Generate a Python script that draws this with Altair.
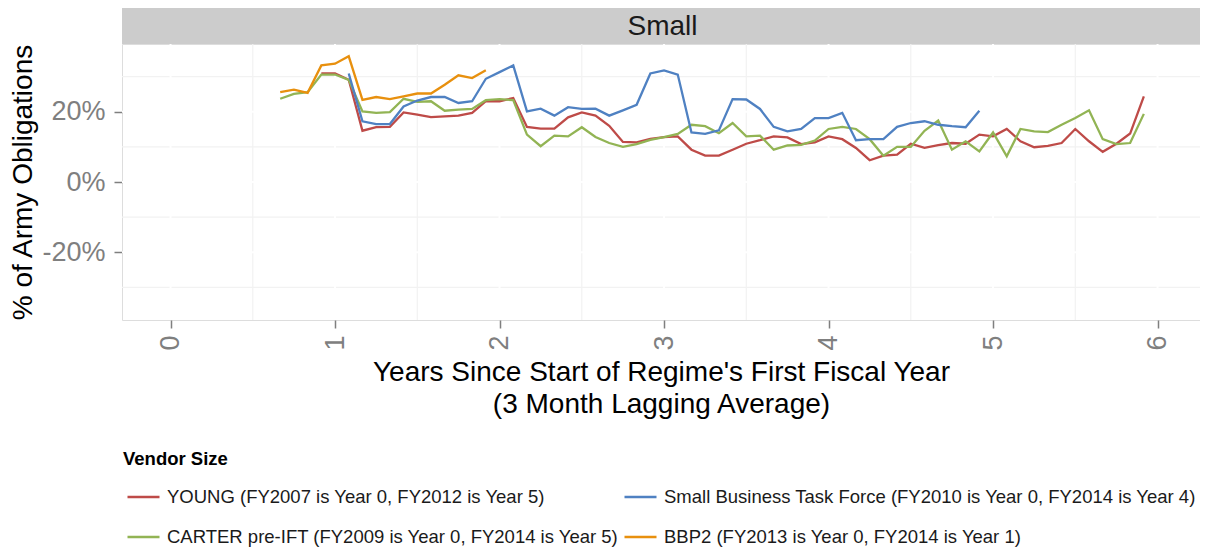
import altair as alt
import pandas as pd

FONT = "Liberation Sans"

# ---- series names -------------------------------------------------------
young_name = "YOUNG (FY2007 is Year 0, FY2012 is Year 5)"
carter_name = "CARTER pre-IFT (FY2009 is Year 0, FY2014 is Year 5)"
sbtf_name = "Small Business Task Force (FY2010 is Year 0, FY2014 is Year 4)"
bbp2_name = "BBP2 (FY2013 is Year 0, FY2014 is Year 1)"

# ---- data: monthly values (% of Army obligations), first month index ----
young_first_month = 11
young_values = [30.9, 30.9, 29.1, 14.6, 15.6, 15.7, 19.8, 19.2, 18.5, 18.7,
                18.9, 19.7, 23.0, 23.0, 23.9, 15.7, 15.2, 15.2, 18.4, 19.8,
                18.9, 16.0, 11.4, 11.3, 12.3, 12.8, 13.0, 9.2, 7.5, 7.5,
                9.2, 10.9, 11.9, 13.0, 12.7, 10.8, 11.3, 13.0, 12.2, 9.7,
                6.2, 7.5, 7.8, 10.9, 9.7, 10.5, 11.1, 10.9, 13.5, 13.0,
                15.1, 11.6, 9.9, 10.3, 11.1, 15.1, 11.6, 8.6, 10.9, 13.8,
                24.4]

carter_first_month = 8
carter_values = [23.7, 25.1, 25.6, 30.6, 30.6, 29.1, 20.1, 19.7, 19.9, 23.7,
                 22.8, 23.0, 20.3, 20.6, 20.8, 23.3, 23.6, 23.3, 13.5, 10.2,
                 13.2, 13.0, 15.6, 12.8, 11.1, 10.0, 10.8, 12.0, 12.8, 13.7,
                 16.3, 15.9, 13.9, 16.8, 13.0, 13.2, 9.2, 10.4, 10.6, 11.8,
                 15.1, 15.7, 15.1, 12.2, 7.5, 10.0, 10.0, 14.6, 17.5, 9.2,
                 11.6, 8.7, 14.1, 7.3, 15.1, 14.4, 14.2, 16.3, 18.2, 20.4,
                 12.2, 10.8, 11.1, 19.4]

sbtf_first_month = 13
sbtf_values = [30.9, 17.3, 16.5, 16.5, 21.5, 23.2, 24.2, 24.2, 22.5, 23.0,
               29.4, 31.3, 33.2, 20.1, 20.9, 18.9, 21.3, 20.8, 20.9, 18.9,
               20.4, 22.0, 30.9, 31.8, 30.6, 14.1, 13.7, 14.7, 23.6, 23.5,
               20.8, 15.7, 14.4, 15.1, 18.2, 18.2, 19.7, 11.9, 12.2, 12.2,
               15.7, 16.8, 17.3, 16.3, 15.9, 15.6, 20.3]

bbp2_first_month = 8
bbp2_values = [25.6, 26.3, 25.4, 33.2, 33.7, 35.8, 23.4, 24.2, 23.6, 24.4,
               25.2, 25.2, 27.7, 30.4, 29.6, 31.8]

# legend fills column by column: col 1 = YOUNG, CARTER; col 2 = SBTF, BBP2
legend_order = [young_name, carter_name, sbtf_name, bbp2_name]
legend_colors = ["#BE4B48", "#92B454", "#4F81C2", "#E8900E"]

strip_label = ["Small"]
x_major = [0, 1, 2, 3, 4, 5, 6]
x_minor = [0.5, 1.5, 2.5, 3.5, 4.5, 5.5]
y_major = [-0.2, 0.0, 0.2]
y_minor = [-0.3, -0.1, 0.1, 0.3]

# ---- build long table ---------------------------------------------------
rows = []
for name, first, vals in [(young_name, young_first_month, young_values),
                          (carter_name, carter_first_month, carter_values),
                          (sbtf_name, sbtf_first_month, sbtf_values),
                          (bbp2_name, bbp2_first_month, bbp2_values)]:
    for i, v in enumerate(vals):
        rows.append({"series": name, "x": (first + i) / 12.0, "y": v / 100.0})
df = pd.DataFrame(rows)

W, H = 1078, 276

xscale = alt.Scale(domain=[-0.295, 6.258], nice=False, zero=False)
yscale = alt.Scale(domain=[-0.393, 0.393], nice=False, zero=False)

xaxis = alt.Axis(
    values=x_major, format="d", labelAngle=270, labelFontSize=27,
    labelFont=FONT, labelColor="#7F7F7F", tickColor="#7F7F7F", tickSize=8,
    tickWidth=1.5, domain=False, grid=False, labelPadding=7,
    title=["Years Since Start of Regime's First Fiscal Year",
           "(3 Month Lagging Average)"],
    titleFont=FONT, titleFontSize=28, titleFontWeight="normal",
    titleColor="black", titlePadding=8, titleLineHeight=32)

yaxis = alt.Axis(
    values=y_major, format=".0%",
    labelExpr="replace(datum.label, '\u2212', '-')",
    labelFontSize=27, labelFont=FONT,
    labelColor="#7F7F7F", tickColor="#7F7F7F", tickSize=8, tickWidth=1.5,
    domain=False, grid=False, labelPadding=9,
    title="% of Army Obligations", titleFont=FONT, titleFontSize=28,
    titleFontWeight="normal", titleColor="black", titlePadding=4)

X = alt.X("x:Q", scale=xscale, axis=xaxis)
Y = alt.Y("y:Q", scale=yscale, axis=yaxis)

xminor = alt.Chart(pd.DataFrame({"x": x_minor})).mark_rule(
    color="#F2F2F2", strokeWidth=1.2).encode(x=X)
yminor = alt.Chart(pd.DataFrame({"y": y_minor})).mark_rule(
    color="#F2F2F2", strokeWidth=1.2).encode(y=Y)
xmajor = alt.Chart(pd.DataFrame({"x": x_major})).mark_rule(
    color="white", strokeWidth=2).encode(x=X)
ymajor = alt.Chart(pd.DataFrame({"y": y_major})).mark_rule(
    color="white", strokeWidth=2).encode(y=Y)

lines = alt.Chart(df).mark_line(strokeWidth=2.3).encode(
    x=X, y=Y,
    color=alt.Color(
        "series:N",
        scale=alt.Scale(domain=legend_order, range=legend_colors),
        legend=alt.Legend(
            title="Vendor Size", orient="none", legendX=1, legendY=406,
            columns=2, symbolType="stroke", symbolSize=1024,
            symbolStrokeWidth=2.5, symbolOffset=3, labelOffset=6,
            labelFontSize=18.5, labelFont=FONT, labelColor="#1A1A1A",
            labelLimit=1000, titleFontSize=18.5, titleFont=FONT,
            titleFontWeight="bold", titleColor="black", titlePadding=11,
            rowPadding=13, columnPadding=0)),
)

strip_df = pd.DataFrame({"label": strip_label})
strip_bg = alt.Chart(strip_df).mark_rect(color="#CCCCCC").encode(
    x=alt.value(0), x2=alt.value(W), y=alt.value(-36), y2=alt.value(0))
strip_text = alt.Chart(strip_df).mark_text(
    font=FONT, fontSize=28, color="#1A1A1A", baseline="middle",
    align="center").encode(text="label:N", x=alt.value(540.5), y=alt.value(-17))

chart = alt.layer(
    xminor, yminor, xmajor, ymajor, lines, strip_bg, strip_text
).properties(
    width=W, height=H,
    autosize=alt.AutoSizeParams(type="none"),
    padding={"left": 114, "top": 36, "right": 0, "bottom": 230},
).configure_view(
    fill="#E5E5E5", stroke="transparent"
).configure(background="white")

chart.save("out.html", embed_options={"renderer": "svg", "actions": False})
